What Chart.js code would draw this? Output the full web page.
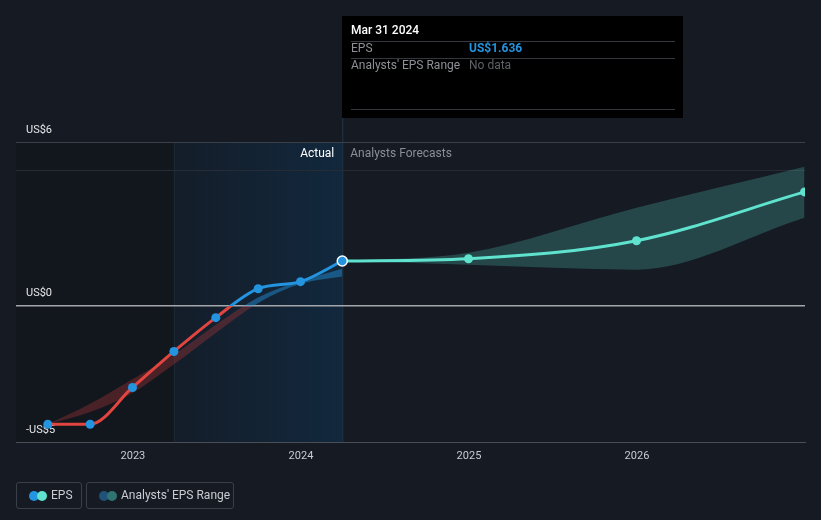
<!DOCTYPE html>
<html>
<head>
<meta charset="utf-8">
<script src="https://cdn.jsdelivr.net/npm/chart.js@4/dist/chart.umd.min.js"></script>
<style>
  html,body{margin:0;padding:0;background:#151a23;width:821px;height:520px;overflow:hidden;font-family:Roboto,"Noto Sans",sans-serif;}
  #wrap{position:absolute;left:0;top:0;width:821px;height:520px;}
  .leg{position:absolute;top:482px;height:27px;border:1px solid #3a3f49;border-radius:3px;box-sizing:border-box;color:#c9ccd1;font-size:12px;line-height:25px;}
  .dot{position:absolute;top:8px;width:10px;height:10px;border-radius:50%;}
</style>
</head>
<body>
<div id="wrap"><canvas id="c" width="821" height="520"></canvas></div>
<div class="leg" style="left:16px;width:66px;">
  <span class="dot" style="left:12px;background:#2394df"></span>
  <span class="dot" style="left:20px;background:#5fe3cf"></span>
  <span style="position:absolute;left:34px;">EPS</span>
</div>
<div class="leg" style="left:86px;width:148px;">
  <span class="dot" style="left:12px;background:#1f5379"></span>
  <span class="dot" style="left:20px;background:#2f7470"></span>
  <span style="position:absolute;left:34px;">Analysts' EPS Range</span>
</div>
<script>
// ---- data ----
const pastDates = ["2022-06-30","2022-09-30","2022-12-31","2023-03-31","2023-06-30","2023-09-30","2023-12-31","2024-03-31"];
const pastEPS   = [-4.35, -4.35, -3.0, -1.68, -0.44, 0.62, 0.88, 1.636];
const pastRangeLow  = [-4.35, -3.9, -3.2, -2.15, -1.0, 0.1, 0.8, 1.07];
const pastRangeHigh = [-4.35, -3.6, -2.7, -1.8, -0.7, 0.3, 0.9, 1.35];
const fcDates = ["2024-03-31","2024-12-31","2025-12-31","2026-12-31"];
const fcEPS   = [1.636, 1.72, 2.38, 4.17];
const fcLow   = [1.636, 1.5, 1.32, 3.22];
const fcHigh  = [1.636, 1.94, 3.59, 5.09];
const yTicks = [-5, 0, 6];
const yTickLabels = {"-5":"-US$5","0":"US$0","6":"US$6"};
const xTicks = [2023, 2024, 2025, 2026];

function toYear(s){const d=new Date(s+"T00:00:00Z");const y=d.getUTCFullYear();const a=Date.UTC(y,0,1),b=Date.UTC(y+1,0,1);return y+(d-a)/(b-a);}
const pts = (dates, vals) => dates.map((d,i)=>({x:toYear(d), y:vals[i]}));

const BLUE="#2394df", RED="#e2453f", TEAL="#5fe3cf";
function splitColor(ctx, above, below){
  const ch=ctx.chart, ca=ch.chartArea; if(!ca) return above;
  const y0=ch.scales.y.getPixelForValue(0);
  const g=ch.ctx.createLinearGradient(0,ca.top,0,ca.bottom);
  const s=Math.min(1,Math.max(0,(y0-ca.top)/(ca.bottom-ca.top)));
  g.addColorStop(0,above);g.addColorStop(s,above);g.addColorStop(s,below);g.addColorStop(1,below);
  return g;
}

const bgPlugin={
  id:'bg',
  beforeDraw(ch){
    const c=ch.ctx, ca=ch.chartArea, x=ch.scales.x;
    const xa=x.getPixelForValue(toYear("2023-03-31")), xb=x.getPixelForValue(toYear("2024-03-31"));
    c.save();
    c.fillStyle="#12161d"; c.fillRect(ca.left,ca.top,xa-ca.left,ca.bottom-ca.top);
    const g=c.createLinearGradient(xa,0,xb,0); g.addColorStop(0,"#141d29"); g.addColorStop(1,"#12283d");
    c.fillStyle=g; c.fillRect(xa,ca.top,xb-xa,ca.bottom-ca.top);
    c.strokeStyle="#1d2a38"; c.lineWidth=1;
    c.beginPath(); c.moveTo(xa+0.5,ca.top); c.lineTo(xa+0.5,ca.bottom); c.stroke();
    c.strokeStyle="#22364a";
    c.beginPath(); c.moveTo(xb+0.5,117); c.lineTo(xb+0.5,ca.bottom); c.stroke();
    c.strokeStyle="#262c36";
    c.beginPath(); c.moveTo(ca.left,170.5); c.lineTo(ca.right,170.5); c.stroke();
    c.font="12px Roboto"; c.textBaseline="middle";
    c.fillStyle="#ffffff"; c.textAlign="right"; c.fillText("Actual",xb-8,154);
    c.fillStyle="#8a8f97"; c.textAlign="left"; c.fillText("Analysts Forecasts",xb+8,154);
    c.restore();
  },
  afterDraw(ch){
    const c=ch.ctx;
    c.save();
    c.fillStyle="#000000"; c.fillRect(342,16,341,102);
    c.strokeStyle="#34373c"; c.lineWidth=1;
    [41.5,58.5,109.5].forEach(y=>{c.beginPath();c.moveTo(351,y);c.lineTo(675,y);c.stroke();});
    c.textBaseline="middle"; c.textAlign="left";
    c.font="500 12px Roboto"; c.fillStyle="#ffffff"; c.fillText("Mar 31 2024",351,31);
    c.font="12px Roboto"; c.fillStyle="#8d9096"; c.fillText("EPS",351,49);
    c.fillText("Analysts' EPS Range",351,66);
    c.font="bold 12px Roboto"; c.fillStyle=BLUE; c.fillText("US$"+pastEPS[pastEPS.length-1].toFixed(3),469,49);
    c.font="12px Roboto"; c.fillStyle="#5f6267"; c.fillText("No data",469,66);
    c.restore();
  }
};

new Chart(document.getElementById('c'),{
  type:'line',
  data:{datasets:[
    {label:'pastLow',data:pts(pastDates,pastRangeLow),borderWidth:0,pointRadius:0,cubicInterpolationMode:'monotone',fill:false,order:5},
    {label:'pastHigh',data:pts(pastDates,pastRangeHigh),borderWidth:0,pointRadius:0,cubicInterpolationMode:'monotone',fill:'-1',
      backgroundColor:ctx=>splitColor(ctx,"rgba(35,148,223,0.45)","rgba(200,60,60,0.3)"),order:5},
    {label:'fcLow',data:pts(fcDates,fcLow),borderWidth:0,pointRadius:0,cubicInterpolationMode:'monotone',fill:false,order:5},
    {label:'fcHigh',data:pts(fcDates,fcHigh),borderWidth:0,pointRadius:0,cubicInterpolationMode:'monotone',fill:'-1',
      backgroundColor:"rgba(80,190,175,0.28)",order:5},
    {label:'EPS',data:pts(pastDates,pastEPS),borderWidth:3,cubicInterpolationMode:'monotone',fill:false,
      borderColor:ctx=>splitColor(ctx,BLUE,RED),
      pointRadius:pastEPS.map((v,i)=>i===pastEPS.length-1?5:4.5),
      pointBackgroundColor:BLUE,
      pointBorderColor:pastEPS.map((v,i)=>i===pastEPS.length-1?"#ffffff":BLUE),
      pointBorderWidth:pastEPS.map((v,i)=>i===pastEPS.length-1?1.5:0),order:1},
    {label:'Forecast',data:pts(fcDates,fcEPS),borderWidth:3,cubicInterpolationMode:'monotone',fill:false,
      borderColor:TEAL,pointBackgroundColor:TEAL,pointBorderWidth:0,
      pointRadius:fcEPS.map((v,i)=>i===0?0:4.5),order:2,clip:0}
  ]},
  options:{
    responsive:false,animation:false,
    layout:{padding:{left:16,right:16,top:142,bottom:50}},
    plugins:{legend:{display:false},tooltip:{enabled:false}},
    events:[],
    scales:{
      x:{type:'linear',min:2022.304,max:2027.0,
        afterBuildTicks:s=>{s.ticks=xTicks.map(v=>({value:v}));},
        afterFit:s=>{s.height=28;},
        grid:{display:false,drawTicks:false},
        border:{display:true,color:"#4a4f57",width:1},
        ticks:{color:"#c9ccd1",font:{family:"Roboto",size:11},padding:8,callback:v=>String(v)}},
      y:{type:'linear',min:-5,max:6,
        afterBuildTicks:s=>{s.ticks=yTicks.map(v=>({value:v}));},
        afterFit:s=>{s.width=0;},
        border:{display:false},
        grid:{drawTicks:false,color:ctx=>ctx.tick&&ctx.tick.value===0?"#a3a6ab":(ctx.tick&&ctx.tick.value===6?"#3a404a":"rgba(0,0,0,0)"),
              lineWidth:ctx=>ctx.tick&&ctx.tick.value===0?1.5:1},
        ticks:{mirror:true,padding:10,labelOffset:-12,color:"#e6e7e9",font:{family:"Roboto",size:11},
          callback:v=>yTickLabels[String(v)]}}
    }
  },
  plugins:[bgPlugin]
});
</script>
</body>
</html>
